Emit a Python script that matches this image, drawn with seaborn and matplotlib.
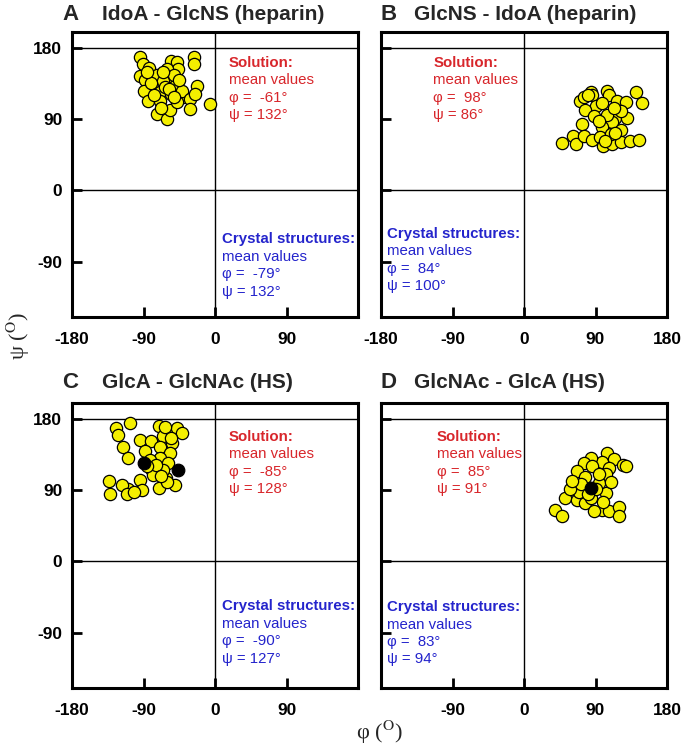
import matplotlib
matplotlib.use("Agg")
import matplotlib.pyplot as plt
import seaborn as sns
import pandas as pd

# ---------------- data ----------------
titles = ["IdoA - GlcNS (heparin)", "GlcNS - IdoA (heparin)",
          "GlcA - GlcNAc (HS)", "GlcNAc - GlcA (HS)"]
letters = ["A", "B", "C", "D"]

a_phi = [-95, -91, -83, -94, -88, -90, -84, -78, -73, -69, -69, -73, -61, -57, -55, -48, -46, -61,
         -59, -65, -50, -63, -55, -40, -48, -42, -31, -31, -27, -26, -23, -25, -6, -80, -52, -66,
         -86, -77, -58, -45, -68, -52]
a_psi = [168, 160, 155, 145, 139, 126, 113, 134, 146, 124, 113, 97, 90, 101, 163, 162, 153, 153,
         143, 138, 132, 130, 122, 118, 111, 126, 115, 103, 168, 160, 132, 122, 109, 136, 146, 150,
         150, 120, 128, 140, 104, 118]

b_phi = [71, 75, 84, 86, 105, 107, 117, 128, 141, 148, 90, 77, 73, 88, 98, 105, 115, 111, 130, 122,
         98, 122, 48, 62, 65, 75, 86, 96, 100, 111, 122, 134, 145, 109, 104, 115, 94, 102, 80, 113]
b_psi = [113, 118, 124, 121, 125, 120, 113, 111, 124, 110, 106, 101, 84, 94, 110, 84, 92, 86, 91, 100,
         80, 76, 60, 69, 58, 69, 63, 67, 56, 59, 61, 62, 64, 71, 95, 72, 88, 62, 120, 104]

c_phi = [-107, -124, -122, -116, -110, -94, -80, -71, -65, -54, -48, -42, -54, -69, -57, -69, -88,
         -82, -80, -78, -94, -92, -109, -117, -133, -132, -111, -71, -62, -50, -61, -59, -66, -74,
         -85, -63, -56, -102, -68]
c_psi = [175, 169, 160, 145, 130, 153, 152, 171, 158, 164, 168, 162, 149, 145, 137, 130, 139, 128,
         117, 109, 103, 90, 91, 97, 102, 85, 85, 93, 105, 97, 100, 124, 115, 122, 120, 170, 156, 87,
         108]
c_crys_phi = [-90, -46]
c_crys_psi = [124, 116]

d_phi = [105, 113, 124, 128, 98, 84, 75, 86, 107, 103, 67, 77, 62, 52, 39, 48, 67, 77, 84, 69, 103,
         94, 98, 107, 120, 119, 58, 90, 72, 95, 110, 80, 100, 88, 60]
d_psi = [137, 129, 122, 120, 125, 131, 124, 120, 118, 110, 114, 107, 93, 80, 65, 57, 78, 74, 80, 88,
         86, 99, 65, 63, 69, 57, 91, 91, 98, 110, 100, 85, 75, 64, 102]
d_crys_phi = [84]
d_crys_psi = [93]

sol_phi = ["-61°", "98°", "-85°", "85°"]
sol_psi = ["132°", "86°", "128°", "91°"]
cry_phi = ["-79°", "84°", "-90°", "83°"]
cry_psi = ["132°", "100°", "127°", "94°"]

tick_vals = [-180, -90, 0, 90, 180]
y_tick_vals = [-90, 0, 90, 180]

# ---------------- style ----------------
sns.set_theme(style="white")
plt.rcParams["font.family"] = ["Liberation Sans", "DejaVu Sans"]
plt.rcParams["mathtext.fontset"] = "stix"

RED = "#d8262b"
BLUE = "#2424cc"
YELLOW = "#f4ef00"

fig = plt.figure(figsize=(6.86, 7.49), dpi=100)
W, H = 686, 749

def px_rect(l, t, r, b):
    return [l / W, 1 - b / H, (r - l) / W, (b - t) / H]

rects = [px_rect(72, 32, 358, 317), px_rect(381, 32, 667, 317),
         px_rect(72, 403, 358, 688), px_rect(381, 403, 667, 688)]

sol_data = [(a_phi, a_psi), (b_phi, b_psi), (c_phi, c_psi), (d_phi, d_psi)]
crys_data = [None, None, (c_crys_phi, c_crys_psi), (d_crys_phi, d_crys_psi)]

# text anchor positions (data coords)
red_pos = [(17, 161), (-114, 161), (17, 157), (-110, 157)]
blue_pos = [(9, -62), (-172, -55), (9, -57), (-172, -58)]
title_y = [15, 15, 382, 382]
letter_x = [62, 381, 62, 381]
title_x = [102, 414, 102, 414]

for i in range(4):
    ax = fig.add_axes(rects[i])
    df = pd.DataFrame({"phi": sol_data[i][0], "psi": sol_data[i][1]})
    sns.scatterplot(data=df, x="phi", y="psi", ax=ax, s=78, color=YELLOW,
                    edgecolor="black", linewidth=0.9, zorder=3, legend=False)
    if crys_data[i] is not None:
        dfc = pd.DataFrame({"phi": crys_data[i][0], "psi": crys_data[i][1]})
        sns.scatterplot(data=dfc, x="phi", y="psi", ax=ax, s=82, color="black",
                        edgecolor="black", linewidth=0.9, zorder=4, legend=False)
    ax.set_xlim(-180, 180)
    ax.set_ylim(-160, 200)
    ax.axvline(0, color="black", lw=1.0, zorder=1)
    ax.axhline(0, color="black", lw=1.0, zorder=1)
    ax.axhline(180, color="black", lw=1.0, zorder=1)
    for sp in ax.spines.values():
        sp.set_linewidth(2.2)
        sp.set_color("black")
    ax.set_xticks(tick_vals)
    xl = [str(v) for v in tick_vals]
    if i in (0, 2):
        xl[-1] = ""
    if i == 3:
        xl[0] = ""
    ax.set_xticklabels(xl)
    ax.set_yticks(y_tick_vals)
    if i in (0, 2):
        ax.set_yticklabels([str(v) for v in y_tick_vals])
    else:
        ax.set_yticklabels([])
    ax.tick_params(axis="both", direction="in", length=7, width=2.0, colors="black",
                   labelsize=12.5, bottom=True, left=True, top=False, right=False)
    ax.tick_params(axis="x", pad=11)
    ax.tick_params(axis="y", pad=7)
    for lab in ax.get_xticklabels() + ax.get_yticklabels():
        lab.set_fontweight("bold")
    ax.set_xlabel("")
    ax.set_ylabel("")

    # annotations
    rx, ry = red_pos[i]
    step = 22
    ax.text(rx, ry, "Solution:", color=RED, fontsize=10.8, fontweight="bold", va="center", zorder=5)
    ax.text(rx, ry - step, "mean values", color=RED, fontsize=10.8, va="center", zorder=5)
    ax.text(rx, ry - 2 * step, "φ =  " + sol_phi[i], color=RED, fontsize=10.8, va="center", zorder=5)
    ax.text(rx, ry - 3 * step, "ψ = " + sol_psi[i], color=RED, fontsize=10.8, va="center", zorder=5)
    bx, by = blue_pos[i]
    ax.text(bx, by, "Crystal structures:", color=BLUE, fontsize=10.8, fontweight="bold", va="center", zorder=5)
    ax.text(bx, by - step, "mean values", color=BLUE, fontsize=10.8, va="center", zorder=5)
    ax.text(bx, by - 2 * step, "φ =  " + cry_phi[i], color=BLUE, fontsize=10.8, va="center", zorder=5)
    ax.text(bx, by - 3 * step, "ψ = " + cry_psi[i], color=BLUE, fontsize=10.8, va="center", zorder=5)

    fig.text(letter_x[i] / W, 1 - title_y[i] / H, letters[i], fontsize=16, fontweight="heavy",
             va="center", ha="left")
    fig.text(title_x[i] / W, 1 - title_y[i] / H, titles[i], fontsize=15, fontweight="bold",
             va="center", ha="left")

fig.text(18 / W, 1 - 336 / H, r"ψ ($^{\mathrm{O}}$)", rotation=90, fontsize=16,
         family=["Liberation Serif", "DejaVu Serif"], va="center", ha="center")
fig.text(379 / W, 1 - 732 / H, r"φ ($^{\mathrm{O}}$)", fontsize=16,
         family=["Liberation Serif", "DejaVu Serif"], va="center", ha="center")

fig.savefig("out.png", dpi=100)
